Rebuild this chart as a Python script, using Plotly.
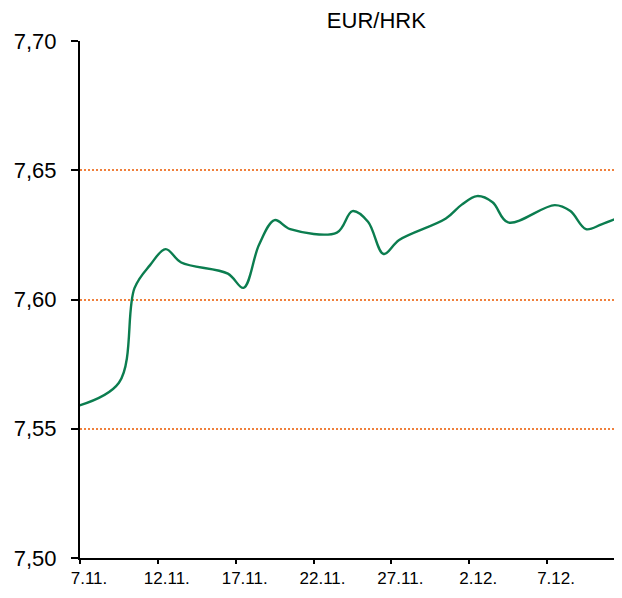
import plotly.graph_objects as go
import pandas as pd

# Business-day EUR/HRK rates
dates = [
    "2015-11-06", "2015-11-09", "2015-11-10", "2015-11-11", "2015-11-12", "2015-11-13",
    "2015-11-16", "2015-11-17", "2015-11-18", "2015-11-19", "2015-11-20",
    "2015-11-23", "2015-11-24", "2015-11-25", "2015-11-26", "2015-11-27",
    "2015-11-30", "2015-12-01", "2015-12-02", "2015-12-03", "2015-12-04",
    "2015-12-07", "2015-12-08", "2015-12-09", "2015-12-10", "2015-12-11",
]
rates = [
    7.5582, 7.5678, 7.6044, 7.6133, 7.6195, 7.6143,
    7.6100, 7.6045, 7.6212, 7.6307, 7.6272,
    7.6259, 7.6342, 7.6301, 7.6176, 7.6230,
    7.6313, 7.6366, 7.6400, 7.6376, 7.6298,
    7.6365, 7.6342, 7.6272, 7.6291, 7.6314,
]
tick_dates = ["2015-11-07", "2015-11-12", "2015-11-17", "2015-11-22",
              "2015-11-27", "2015-12-02", "2015-12-07"]
tick_labels = ["7.11.", "12.11.", "17.11.", "22.11.", "27.11.", "2.12.", "7.12."]
y_ticks = [7.50, 7.55, 7.60, 7.65, 7.70]

# each daily value sits in the middle of its day slot
x_vals = pd.to_datetime(dates) + pd.Timedelta(hours=12)

fig = go.Figure()
fig.add_trace(go.Scatter(
    x=x_vals, y=rates, mode="lines",
    line=dict(color="#0B7D4F", width=2.4, shape="spline", smoothing=1.0),
    hoverinfo="skip", showlegend=False,
))

x_start = pd.Timestamp("2015-11-07")
x_end = x_start + pd.Timedelta(days=34.3)

fig.update_layout(
    width=606, height=582,
    margin=dict(l=72, r=0, t=33, b=32),
    paper_bgcolor="white", plot_bgcolor="white",
    separators=", ",
    font=dict(family="Liberation Sans, Arial, sans-serif", color="black"),
    title=dict(text="EUR/HRK", x=0.555, xref="paper", xanchor="center",
               y=0.979, yref="container", yanchor="middle",
               font=dict(size=22, color="black")),
    showlegend=False,
)
fig.update_xaxes(
    type="date", range=[x_start, x_end], automargin=False,
    tickvals=pd.to_datetime(tick_dates), ticktext=tick_labels,
    ticks="outside", ticklen=4, tickwidth=2, tickcolor="black",
    ticklabelshift=9, ticklabelstandoff=0,
    showline=True, linecolor="black", linewidth=2,
    showgrid=False, zeroline=False,
    tickfont=dict(size=17, color="black"),
)
fig.update_yaxes(
    range=[7.50, 7.70], tickvals=y_ticks, tickformat=".2f", automargin=False,
    ticks="outside", ticklen=7, tickwidth=2, tickcolor="black",
    showline=True, linecolor="black", linewidth=2,
    showgrid=True, gridcolor="#F0803C", gridwidth=2, griddash="2px,2px",
    zeroline=False,
    tickfont=dict(size=22, color="black"),
    ticklabelstandoff=10,
)

fig.write_html("out.html")
